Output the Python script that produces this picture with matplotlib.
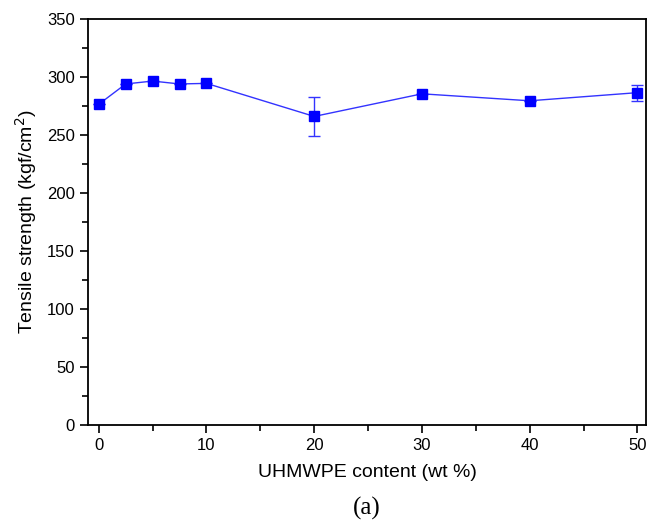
import matplotlib
matplotlib.use("Agg")
import matplotlib.pyplot as plt
from matplotlib.ticker import MultipleLocator

# UHMWPE content (wt %) and tensile strength (kgf/cm2)
content = [0, 2.5, 5, 7.5, 10, 20, 30, 40, 50]
strength = [276.5, 294, 296.5, 294, 294.5, 266, 285.5, 279.5, 286.5]
err = [0, 0, 0, 0, 0, 17, 0, 0, 7]

plt.rcParams['font.family'] = ['Liberation Sans', 'DejaVu Sans']

fig = plt.figure(figsize=(6.59, 5.27), dpi=100)
ax = fig.add_axes([88 / 659, 1 - 425 / 527, (646 - 88) / 659, (425 - 19) / 527])

ax.errorbar(content, strength, yerr=err, color='#3333ff', lw=1.0, marker='s',
            ms=7, mfc='#0000ff', mec='#0000ff', capsize=4, elinewidth=1.0, ecolor='#3333ff')

ax.set_xlim(-1, 50.8)
ax.set_ylim(0, 350)
ax.xaxis.set_major_locator(MultipleLocator(10))
ax.xaxis.set_minor_locator(MultipleLocator(5))
ax.yaxis.set_major_locator(MultipleLocator(50))
ax.yaxis.set_minor_locator(MultipleLocator(25))
ax.tick_params(which='both', direction='out', top=False, right=False, labelsize=12)
ax.tick_params(which='major', length=6, width=1.2)
ax.tick_params(which='minor', length=4, width=1.2)
for s in ax.spines.values():
    s.set_linewidth(1.3)

ax.set_xlabel('UHMWPE content (wt %)', fontsize=14, labelpad=8)
ax.set_ylabel('Tensile strength (kgf/cm$^2$)', fontsize=14, labelpad=6)
fig.text(0.5 * (88 + 646) / 659, 1 - 508 / 527, '(a)', ha='center', va='center',
         fontsize=18, family=['Liberation Serif', 'DejaVu Serif'])

fig.savefig('out.png', dpi=100)
